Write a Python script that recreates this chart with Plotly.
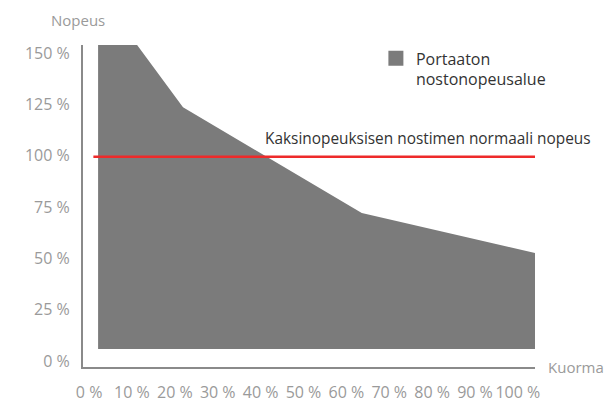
import plotly.graph_objects as go

# Data
load_pct = [2.1, 11.2, 21.9, 63.6, 104, 104, 2.1]          # x (Kuorma, %)
speed_pct = [154, 154, 123.7, 72.1, 52.6, 5.8, 5.8]         # y (Nopeus, %)
normal_x = [1, 104]
normal_y = [99.5, 99.5]
x_ticks = [0, 10, 20, 30, 40, 50, 60, 70, 80, 90, 100]
y_ticks = [0, 25, 50, 75, 100, 125, 150]

FONT = "Open Sans, Liberation Sans, Arial, sans-serif"
AREA = "#7b7b7b"

fig = go.Figure()
fig.add_trace(go.Scatter(
    x=load_pct, y=speed_pct, fill="toself", fillcolor=AREA,
    mode="lines", line=dict(width=0, color=AREA),
    showlegend=False, legendgroup="a", hoverinfo="skip"))
fig.add_trace(go.Scatter(
    x=[None], y=[None], mode="markers",
    marker=dict(symbol="square", size=15, color=AREA),
    name="Portaaton<br>nostonopeusalue", legendgroup="a"))
fig.add_trace(go.Scatter(
    x=normal_x, y=normal_y, mode="lines",
    line=dict(color="#ee2a2a", width=2.5), showlegend=False))

fig.add_annotation(x=40.6, y=108.6, text="Kaksinopeuksisen nostimen normaali nopeus",
                   showarrow=False, xanchor="left", yanchor="middle",
                   font=dict(family=FONT, size=15.4, color="#333333"))
fig.add_annotation(xref="paper", yref="paper", x=-0.011, y=1.0776, text="Nopeus",
                   showarrow=False, xanchor="center", yanchor="middle",
                   font=dict(family=FONT, size=15, color="#9a9a9a"))
fig.add_annotation(xref="paper", yref="paper", x=1.156, y=0, text="Kuorma",
                   showarrow=False, xanchor="right", yanchor="middle",
                   font=dict(family=FONT, size=15, color="#9a9a9a"))

fig.update_layout(
    width=604, height=402,
    margin=dict(l=83, r=69, t=45, b=35, autoexpand=False),
    paper_bgcolor="white", plot_bgcolor="white",
    font=dict(family=FONT, size=16, color="#9a9a9a"),
    legend=dict(x=0.648, y=1.011, xanchor="left", yanchor="top",
                font=dict(family=FONT, size=16, color="#333333"),
                bgcolor="rgba(0,0,0,0)", valign="top"),
    xaxis=dict(range=[-1.42, 104.0], tickvals=x_ticks,
               ticktext=[f"{v} %" for v in x_ticks],
               showgrid=False, zeroline=False, showline=True,
               linecolor="#8a8a8a", linewidth=2, ticks="",
               ticklabelstandoff=10, fixedrange=True, automargin=False),
    yaxis=dict(range=[-2.92, 154.0], tickvals=y_ticks,
               ticktext=[f"{v} %" for v in y_ticks],
               showgrid=False, zeroline=False, showline=True,
               linecolor="#8a8a8a", linewidth=2, ticks="",
               ticklabelstandoff=8, fixedrange=True, automargin=False),
)

fig.write_html("out.html", config={"displayModeBar": False},
               post_script="document.body.style.margin='0';")
